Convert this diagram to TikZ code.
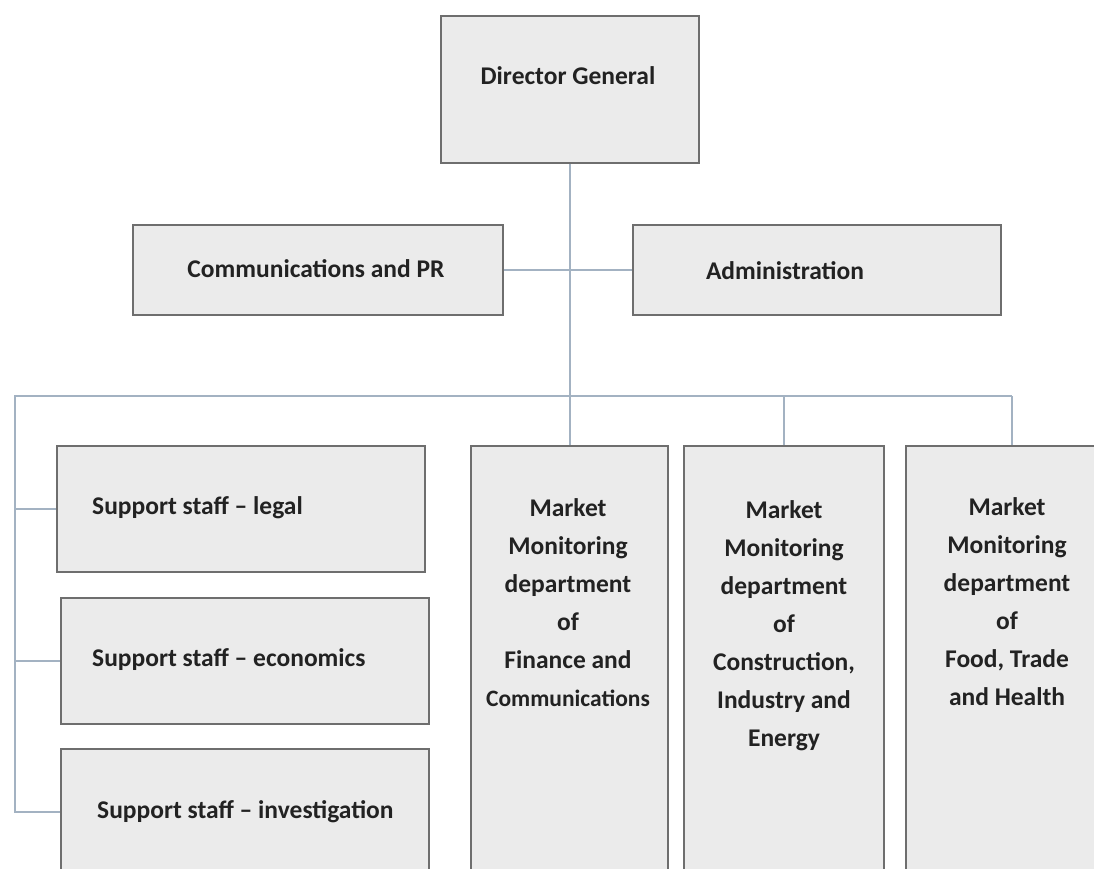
\documentclass[tikz,border=0pt]{standalone}
\usepackage{fontspec}
\setmainfont{Carlito}
\definecolor{boxfill}{HTML}{EBEBEB}
\definecolor{boxline}{HTML}{6E6E6E}
\definecolor{conn}{HTML}{A3B2C2}
\definecolor{ink}{HTML}{222222}
\begin{document}
\begin{tikzpicture}[x=1pt,y=-1pt,
  orgbox/.style={draw=boxline, fill=boxfill, line width=2pt, rectangle, inner sep=0pt, anchor=north west},
  lbl/.style={text=ink, font=\bfseries\fontsize{25.5}{38}\selectfont, inner sep=0pt},
  mlbl/.style={lbl, align=center, anchor=north},
  link/.style={draw=conn, line width=1.8pt}]
\useasboundingbox (0,0) rectangle (1094,869);
\clip (0,0) rectangle (1094,869);
\fill[white] (0,0) rectangle (1094,869);

% boxes
\node[orgbox, minimum width=258pt, minimum height=147pt] (dg) at (440,15) {};
\node[orgbox, minimum width=370pt, minimum height=90pt] (comm) at (132,224) {};
\node[orgbox, minimum width=368pt, minimum height=90pt] (admin) at (632,224) {};
\node[orgbox, minimum width=368pt, minimum height=126pt] (legal) at (56,445) {};
\node[orgbox, minimum width=368pt, minimum height=126pt] (econ) at (60,597) {};
\node[orgbox, minimum width=368pt, minimum height=126pt] (inv) at (60,748) {};
\node[orgbox, minimum width=197pt, minimum height=470pt] (m1) at (470,445) {};
\node[orgbox, minimum width=200pt, minimum height=470pt] (m2) at (683,445) {};
\node[orgbox, minimum width=212pt, minimum height=470pt] (m3) at (905,445) {};

% texts
\node[lbl] (dgt) at (568,76) {Director General};
\node[lbl] (commt) at (316,269) {Communications and PR};
\node[lbl] (admint) at (785,271) {Administration};
\node[lbl, anchor=west] (legalt) at (92,508) {Support staff – legal};
\node[lbl, anchor=west] (econt) at (92,660) {Support staff – economics};
\node[lbl, anchor=west] (invt) at (97,812) {Support staff – investigation};
\node[mlbl] (m1t) at (568,498) {Market\\Monitoring\\department\\of\\Finance and\\{\fontsize{23.5}{38}\selectfont Communications}};
\node[mlbl] (m2t) at (784,500) {Market\\Monitoring\\department\\of\\Construction,\\Industry and\\Energy};
\node[mlbl] (m3t) at (1007,497) {Market\\Monitoring\\department\\of\\Food, Trade\\and Health};

% connectors
\coordinate (busL) at (15,396);
\coordinate (busR) at (m3.north |- busL);
\draw[link] (dg.south) -- (dg.south |- m1.north);
\draw[link] (comm.east) -- (admin.west);
\draw[link] (busR) -- (busL) |- (inv.west);
\draw[link] (legal.west -| busL) -- (legal.west);
\draw[link] (econ.west -| busL) -- (econ.west);
\draw[link] (m2.north |- busL) -- (m2.north);
\draw[link] (busR) -- (m3.north);
\end{tikzpicture}
\end{document}
